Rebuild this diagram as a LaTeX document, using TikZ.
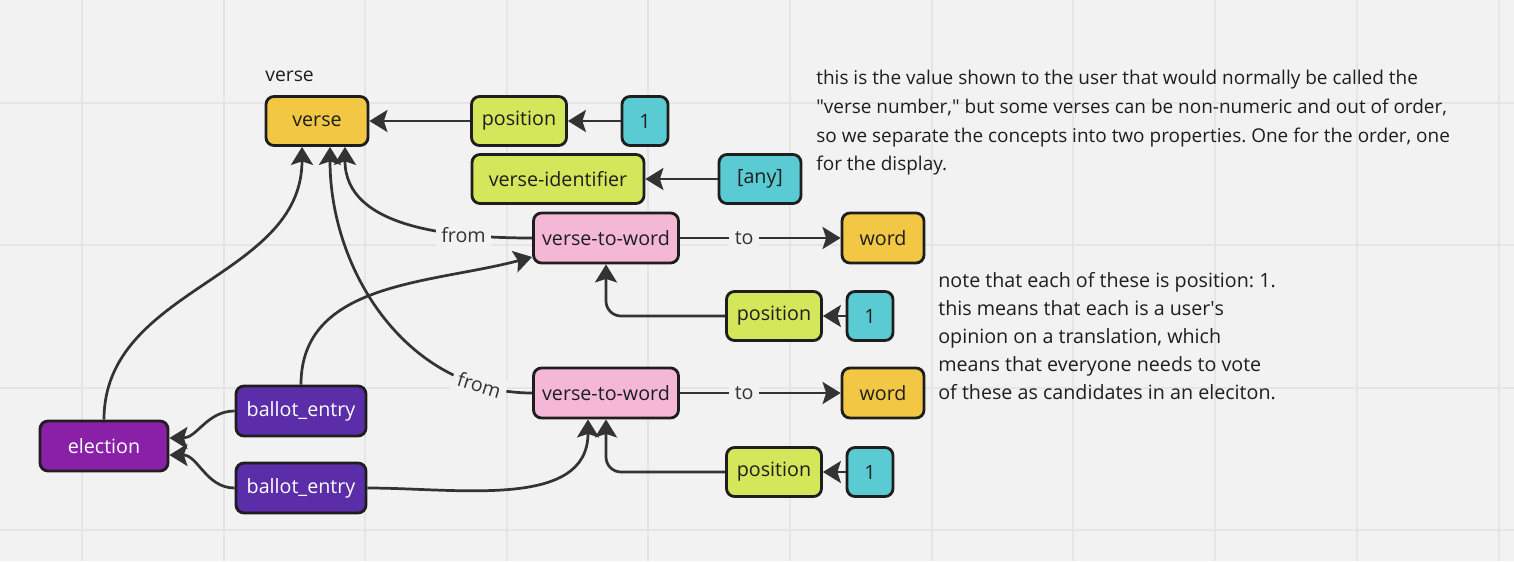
\documentclass[tikz,border=0pt]{standalone}
\usepackage{fontspec}
\setmainfont{Open Sans}
\usetikzlibrary{arrows.meta}
\frenchspacing

\definecolor{bg}{HTML}{F2F2F2}
\definecolor{gridc}{HTML}{E5E5E5}
\definecolor{ink}{HTML}{1E1E1E}
\definecolor{wirec}{HTML}{333333}
\definecolor{amber}{HTML}{F2C744}
\definecolor{lime}{HTML}{D4E65A}
\definecolor{aqua}{HTML}{5BCBD3}
\definecolor{rose}{HTML}{F4B8D6}
\definecolor{plum}{HTML}{8A1FA8}
\definecolor{grape}{HTML}{5B2DA8}

\tikzset{
  box/.style={draw=ink, line width=1.6pt, rounded corners=0.16cm, minimum height=0.98cm,
    inner sep=0pt, text=ink, font=\fontsize{11.2pt}{13pt}\selectfont},
  typebox/.style={box, fill=amber},
  propbox/.style={box, fill=lime},
  valbox/.style={box, fill=aqua},
  linkbox/.style={box, fill=rose},
  electbox/.style={box, fill=plum, text=white},
  ballotbox/.style={box, fill=grape, text=white},
  wire/.style={draw=wirec, line width=1.55pt, -{Stealth[length=0.36cm,width=0.44cm,inset=0.07cm]}},
  tag/.style={fill=bg, inner sep=3pt, text=wirec, font=\fontsize{11.2pt}{13pt}\selectfont},
  note/.style={anchor=north west, align=left, inner sep=0pt, text=ink},
}

\begin{document}
\begin{tikzpicture}[x=0.02cm, y=-0.02cm] % 1 unit = 1 px of the board
\useasboundingbox (0,0) rectangle (1514,561);
\fill[bg] (0,0) rectangle (1514,561);
\foreach \gx in {82,224,365,507,648,790,932,1073,1215,1357,1499}
  \draw[gridc, line width=0.6pt] (\gx,0) -- (\gx,561);
\foreach \gy in {103,245,388,530}
  \draw[gridc, line width=0.6pt] (0,\gy) -- (1514,\gy);

% verse and its properties
\node[anchor=west, inner sep=0pt, text=ink, font=\fontsize{11pt}{13pt}\selectfont] (verselabel) at (265,76) {verse};
\node[typebox, minimum width=2.04cm] (verse) at (317,121) {verse};
\node[propbox, minimum width=1.9cm] (verseposition) at (519,121) {position};
\node[valbox, minimum width=0.92cm] (positionvalue) at (645,121) {1};
\node[propbox, minimum width=3.44cm] (verseident) at (558,179) {verse-identifier};
\node[valbox, minimum width=1.64cm] (identvalue) at (760,179) {[any]};

% verse-to-word links
\node[linkbox, minimum width=2.9cm, minimum height=1cm] (linkA) at (606,238) {verse-to-word};
\node[typebox, minimum width=1.64cm, minimum height=1cm] (wordA) at (883,238) {word};
\node[propbox, minimum width=1.9cm] (linkApos) at (774,316) {position};
\node[valbox, minimum width=0.92cm] (linkAval) at (870,316) {1};
\node[linkbox, minimum width=2.9cm, minimum height=1cm] (linkB) at (606,393) {verse-to-word};
\node[typebox, minimum width=1.64cm, minimum height=1cm] (wordB) at (883,393) {word};
\node[propbox, minimum width=1.9cm] (linkBpos) at (774,472) {position};
\node[valbox, minimum width=0.92cm] (linkBval) at (870,472) {1};

% election
\node[electbox, minimum width=2.56cm, minimum height=1cm] (election) at (104,446) {election};
\node[ballotbox, minimum width=2.6cm, minimum height=1cm] (ballotA) at (301,411) {ballot\_entry};
\node[ballotbox, minimum width=2.6cm, minimum height=1cm] (ballotB) at (301,488) {ballot\_entry};

% notes
\node[note, font=\fontsize{10.8pt}{0.573cm}\selectfont] (versenote) at (816,70) {this is the value shown to the user that would normally be called the\\
\textquotedbl verse number,\textquotedbl{} but some verses can be non-numeric and out of order,\\
so we separate the concepts into two properties. One for the order, one\\
for the display.};
\node[note, font=\fontsize{11.2pt}{0.56cm}\selectfont] (linknote) at (938,272) {note that each of these is position: 1.\\
this means that each is a user\textquotesingle s\\
opinion on a translation, which\\
means that everyone needs to vote\\
of these as candidates in an eleciton.};

% connectors
\draw[wire] (verseposition) -- (verse);
\draw[wire] (positionvalue) -- (verseposition);
\draw[wire] (identvalue) -- (verseident);
\draw[wire] (linkA) -- node[tag, pos=0.4] {to} (wordA);
\draw[wire] (linkB) -- node[tag, pos=0.4] {to} (wordB);
\draw[wire] (linkA.west) to[out=180, in=-90] node[tag, pos=0.27] {from} ([xshift=0.56cm]verse.south);
\draw[wire] (linkB.west) to[out=180, in=-90] node[tag, pos=0.15, sloped] {from} ([xshift=0.26cm]verse.south);
\draw[wire, rounded corners=0.3cm] (linkApos.west) -| (linkA.south);
\draw[wire, rounded corners=0.3cm] (linkBpos.west) -| (linkB.south);
\draw[wire] (linkAval) -- (linkApos);
\draw[wire] (linkBval) -- (linkBpos);
\draw[wire] (ballotA.north) to[out=90, in=195] ([yshift=-0.38cm]linkA.west);
\draw[wire] (ballotB.east) to[out=0, in=-90] ([xshift=-0.36cm]linkB.south);
\draw[wire] (election.north) to[out=90, in=-90] ([xshift=-0.3cm]verse.south);
\draw[wire] (ballotA.west) to[out=180, in=0] ([yshift=0.16cm]election.east);
\draw[wire] (ballotB.west) to[out=180, in=0] ([yshift=-0.18cm]election.east);
\end{tikzpicture}
\end{document}
